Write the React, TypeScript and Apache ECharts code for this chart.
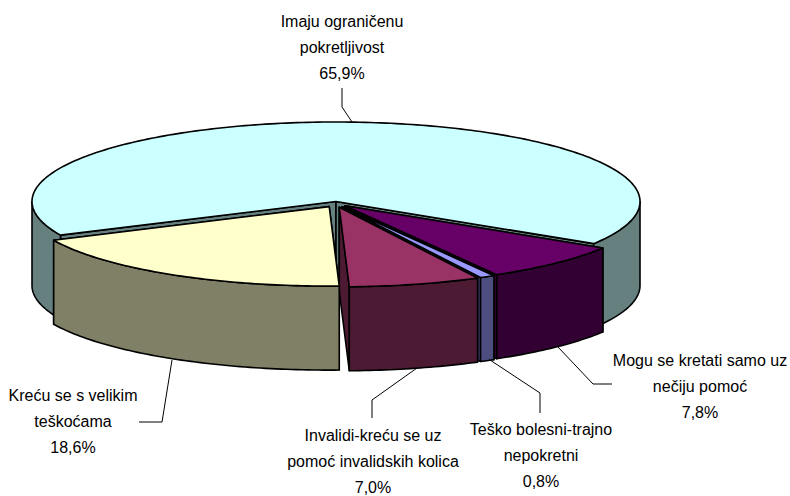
import React, { useEffect, useRef } from "react";
import * as echarts from "echarts";

const names = [
  "Imaju ograničenu\npokretljivost",
  "Mogu se kretati samo uz\nnečiju pomoć",
  "Teško bolesni-trajno\nnepokretni",
  "Invalidi-kreću se uz\npomoć invalidskih kolica",
  "Kreću se s velikim\nteškoćama",
];
const values = [65.9, 7.8, 0.8, 7.0, 18.6];
const percentLabels = ["65,9%", "7,8%", "0,8%", "7,0%", "18,6%"];
const explode = [0, 1, 1, 1, 1];
const topColors = ["#CCFFFF", "#660066", "#9999FF", "#993366", "#FFFFCC"];
const sideColors = ["#668080", "#330033", "#4D4D80", "#4D1A33", "#808066"];
const labelCentres = [
  [342, 47],
  [700, 386],
  [541, 455],
  [373, 461],
  [73, 421],
];
const leaders = [
  [[342, 88], [342, 107], [352, 122]],
  [[558, 347], [593, 384], [612, 384]],
  [[490, 360], [540, 393], [540, 413]],
  [[417, 368], [372, 400], [372, 418]],
  [[172, 360], [162, 422], [139, 422]],
];

const CX = 336, CY = 201.5, RX = 304, RY = 79.5, DEPTH = 84;
const EX = 13, EY = 6, START = 245;
const total = values.reduce((a, b) => a + b, 0);
const rad = (d: number) => (d * Math.PI) / 180;

function spans() {
  let a = START;
  return values.map((v) => {
    const b = a + (v / total) * 360;
    const s = [a, b];
    a = b;
    return s;
  });
}

function arc(cx: number, cy: number, a: number, b: number) {
  const pts: number[][] = [];
  const n = Math.max(2, Math.ceil(Math.abs(b - a)));
  for (let i = 0; i <= n; i++) {
    const t = rad(a + ((b - a) * i) / n);
    pts.push([cx + RX * Math.sin(t), cy - RY * Math.cos(t)]);
  }
  return pts;
}

const edge = { stroke: "#000", lineWidth: 1.6, lineJoin: "round" };

function renderSlice(params: any) {
  const i = params.dataIndex;
  const [a, b] = spans()[i];
  const mid = rad((a + b) / 2);
  const cx = CX + explode[i] * EX * Math.sin(mid);
  const cy = CY - explode[i] * EY * Math.cos(mid);
  const side = { ...edge, fill: sideColors[i] };
  const poly = (points: number[][], style: any) => ({
    type: "polygon",
    shape: { points },
    style,
    silent: true,
  });
  const children: any[] = [];
  for (const t of [a, b]) {
    const r = rad(t);
    const rx = cx + RX * Math.sin(r);
    const ry = cy - RY * Math.cos(r);
    children.push(
      poly([[cx, cy], [rx, ry], [rx, ry + DEPTH], [cx, cy + DEPTH]], side),
    );
  }
  for (const k of [0, 1]) {
    const lo = Math.max(a, 90 + 360 * k);
    const hi = Math.min(b, 270 + 360 * k);
    if (hi > lo) {
      const upper = arc(cx, cy, lo, hi);
      const lower = arc(cx, cy + DEPTH, hi, lo);
      children.push(poly([...upper, ...lower], side));
    }
  }
  children.push(
    poly([[cx, cy], ...arc(cx, cy, a, b)], { ...edge, fill: topColors[i] }),
  );
  return { type: "group", children };
}

export default function App() {
  const ref = useRef<HTMLDivElement>(null);
  useEffect(() => {
    document.body.style.margin = "0";
    const chart = echarts.init(ref.current!, undefined, { renderer: "svg" });
    chart.setOption({
      animation: false,
      backgroundColor: "#ffffff",
      series: [
        {
          type: "custom",
          coordinateSystem: "none",
          silent: true,
          data: values.map((v, i) => ({ name: names[i], value: [v] })),
          renderItem: renderSlice,
        },
      ],
      graphic: [
        ...leaders.map((points) => ({
          type: "polyline",
          silent: true,
          shape: { points },
          style: { stroke: "#000", lineWidth: 1, fill: "none" },
        })),
        ...names.map((n, i) => ({
          type: "text",
          silent: true,
          x: labelCentres[i][0],
          y: labelCentres[i][1],
          style: {
            text: `${n}\n${percentLabels[i]}`,
            fill: "#000",
            font: '16px "Liberation Sans", Arial, sans-serif',
            lineHeight: 26,
            align: "center",
            verticalAlign: "middle",
          },
        })),
      ],
    });
    return () => chart.dispose();
  }, []);
  return <div ref={ref} style={{ width: 790, height: 496 }} />;
}
